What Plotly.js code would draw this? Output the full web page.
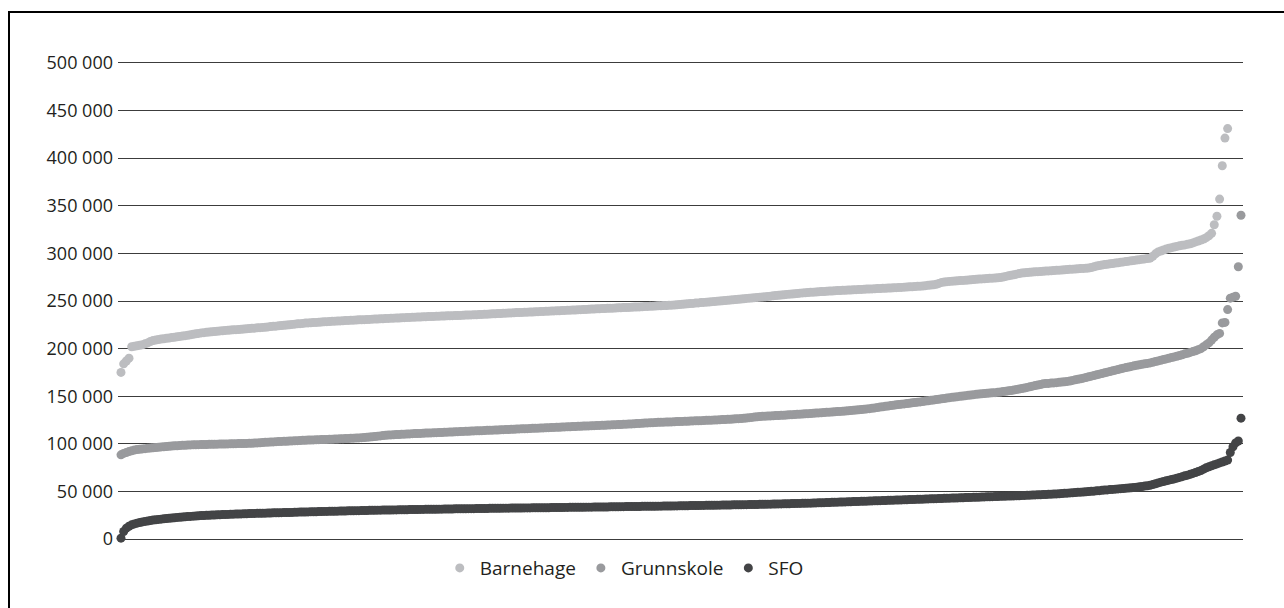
<!DOCTYPE html>
<html>
<head>
<meta charset="utf-8">
<script src="https://cdn.plot.ly/plotly-3.0.1.min.js"></script>
<style>
  html, body { margin: 0; padding: 0; background: #fff; overflow: hidden; }
  #chart { position: absolute; left: 0; top: 0; width: 1284px; height: 608px; }
  #frame { position: absolute; left: 8px; top: 11px; width: 1300px; height: 620px;
           border-top: 2px solid #000; border-left: 2px solid #000; pointer-events: none; }
</style>
</head>
<body>
<div id="chart"></div>
<div id="frame"></div>
<script>
// Values in thousand NOK, each series sorted ascending (one point per municipality)
const seriesNames = ["Barnehage", "Grunnskole", "SFO"];

const barnehage = [
175,184,187,190,202,202.5,203,203.5,204,205,
206,207.5,208.5,209,209.5,210,210.4,210.8,211.2,211.6,
212,212.4,212.8,213.2,213.6,214,214.5,215,215.5,216,
216.5,216.8,217.1,217.4,217.7,218,218.3,218.6,218.8,219.1,
219.3,219.5,219.7,219.9,220.1,220.3,220.5,220.8,221,221.3,
221.5,221.8,222,222.3,222.5,222.8,223.1,223.4,223.6,223.9,
224.2,224.5,224.8,225.1,225.4,225.7,226,226.2,226.5,226.8,
227,227.2,227.4,227.5,227.7,227.9,228.1,228.3,228.5,228.7,
228.8,229,229.1,229.3,229.4,229.6,229.7,229.9,230,230.2,
230.3,230.4,230.6,230.7,230.9,231,231.1,231.3,231.4,231.6,
231.7,231.8,232,232.1,232.2,232.4,232.5,232.6,232.8,232.9,
233,233.1,233.2,233.4,233.5,233.6,233.7,233.8,233.9,234.1,
234.2,234.3,234.4,234.5,234.6,234.7,234.8,234.9,235,235.2,
235.3,235.4,235.5,235.6,235.7,235.9,236,236.2,236.3,236.5,
236.6,236.8,236.9,237.1,237.2,237.4,237.5,237.6,237.8,237.9,
238,238.1,238.3,238.4,238.5,238.7,238.8,238.9,239.1,239.2,
239.3,239.4,239.6,239.7,239.8,240,240.1,240.2,240.4,240.5,
240.6,240.8,240.9,241.1,241.2,241.3,241.5,241.6,241.8,241.9,
242,242.1,242.3,242.4,242.5,242.7,242.8,242.9,243.1,243.2,
243.3,243.4,243.6,243.7,243.8,244,244.1,244.3,244.4,244.6,
244.7,244.9,245,245.2,245.3,245.5,245.6,245.8,246,246.3,
246.5,246.8,247,247.3,247.5,247.8,248,248.3,248.5,248.8,
249,249.3,249.5,249.8,250,250.3,250.5,250.8,251,251.3,
251.5,251.8,252.1,252.4,252.7,253,253.2,253.5,253.8,254,
254.2,254.5,254.8,255.1,255.4,255.7,256,256.3,256.6,256.9,
257.2,257.4,257.6,257.9,258.2,258.5,258.7,258.9,259.1,259.3,
259.5,259.7,259.9,260,260.2,260.4,260.5,260.7,260.9,261,
261.2,261.3,261.5,261.6,261.8,261.9,262.1,262.2,262.3,262.5,
262.6,262.7,262.9,263,263.1,263.3,263.4,263.6,263.7,263.9,
264,264.2,264.3,264.5,264.7,264.9,265,265.2,265.4,265.6,
265.8,266.1,266.5,266.8,267.1,267.5,268.5,269.5,270,270.3,
270.6,270.8,271,271.2,271.4,271.6,271.8,272,272.2,272.5,
272.8,273,273.2,273.4,273.6,273.8,274,274.2,274.4,274.7,
275.2,275.8,276.4,277,277.6,278.2,278.8,279.3,279.6,279.9,
280.2,280.4,280.6,280.8,281,281.2,281.4,281.6,281.8,282,
282.2,282.4,282.6,282.8,283,283.2,283.4,283.6,283.8,284,
284.2,284.4,284.6,285.2,286,286.8,287.3,287.8,288.2,288.6,
289,289.4,289.8,290.2,290.6,291,291.4,291.8,292.2,292.6,
293,293.4,293.8,294.2,294.6,295,297,299.5,301.5,302.5,
303.5,304.5,305.3,306,306.7,307.3,307.9,308.4,308.9,309.5,
310,311,312,313,314,315,316.5,318.5,321,330,
339,357,392,421,431
];

const grunnskole = [
88.5,90,91,92,92.8,93.5,94,94.3,94.7,95,
95.3,95.6,95.9,96.2,96.5,96.8,97,97.3,97.5,97.8,
98,98.1,98.3,98.5,98.6,98.8,98.9,99,99.1,99.2,
99.3,99.4,99.4,99.5,99.6,99.6,99.7,99.8,99.8,99.9,
100,100.1,100.1,100.2,100.3,100.4,100.4,100.5,100.6,100.7,
100.8,101,101.2,101.4,101.6,101.8,101.9,102.1,102.3,102.4,
102.6,102.7,102.8,103,103.1,103.2,103.4,103.5,103.7,103.8,
104,104.1,104.2,104.3,104.4,104.5,104.6,104.7,104.8,104.9,
105,105.1,105.3,105.4,105.6,105.7,105.9,106,106.2,106.3,
106.5,106.7,107,107.2,107.5,107.8,108.1,108.4,108.7,109,
109.2,109.4,109.6,109.8,109.9,110,110.2,110.4,110.5,110.7,
110.8,110.9,111,111.2,111.3,111.4,111.5,111.6,111.8,111.9,
112,112.1,112.3,112.4,112.5,112.7,112.8,112.9,113.1,113.2,
113.3,113.4,113.6,113.7,113.8,113.9,114,114.2,114.3,114.4,
114.5,114.6,114.8,114.9,115,115.1,115.3,115.4,115.5,115.7,
115.8,115.9,116,116.2,116.3,116.4,116.5,116.6,116.8,116.9,
117,117.1,117.3,117.4,117.5,117.7,117.8,117.9,118,118.2,
118.3,118.4,118.5,118.7,118.8,118.9,119,119.1,119.3,119.4,
119.5,119.6,119.8,119.9,120,120.2,120.3,120.4,120.5,120.7,
120.8,121,121.1,121.3,121.5,121.6,121.8,122,122.1,122.3,
122.5,122.6,122.7,122.8,122.9,123,123.1,123.2,123.4,123.5,
123.6,123.7,123.8,124,124.1,124.2,124.3,124.4,124.6,124.7,
124.8,124.9,125.1,125.2,125.3,125.5,125.6,125.8,125.9,126.1,
126.3,126.5,126.7,126.9,127.2,127.5,127.8,128.1,128.4,128.7,
129,129.1,129.3,129.4,129.5,129.7,129.8,130,130.1,130.3,
130.5,130.7,130.8,131,131.2,131.4,131.6,131.7,131.9,132.1,
132.3,132.5,132.7,132.9,133.1,133.3,133.5,133.7,133.9,134.1,
134.3,134.5,134.8,135,135.3,135.5,135.8,136.1,136.4,136.7,
137,137.4,137.8,138.2,138.6,139,139.4,139.8,140.2,140.6,
141,141.3,141.7,142,142.4,142.7,143.1,143.4,143.8,144.1,
144.5,144.9,145.3,145.7,146.1,146.5,146.9,147.3,147.7,148.1,
148.5,148.9,149.2,149.6,149.9,150.3,150.6,151,151.3,151.7,
152,152.3,152.6,152.8,153.1,153.3,153.6,153.8,154.1,154.5,
154.9,155.3,155.7,156.1,156.5,157,157.5,158.1,158.7,159.3,
160,160.6,161.2,161.8,162.4,163,163.3,163.5,163.8,164,
164.3,164.6,164.9,165.2,165.6,166,166.6,167.2,167.8,168.4,
169,169.7,170.4,171.1,171.8,172.5,173.2,173.9,174.6,175.3,
176,176.7,177.4,178.1,178.8,179.5,180.1,180.7,181.3,181.9,
182.5,183,183.5,184,184.5,185,185.7,186.4,187.1,187.8,
188.5,189.2,189.9,190.6,191.3,192,192.8,193.6,194.5,195.2,
196,196.9,197.8,198.9,200,202,204,206,209,212,
214.5,216,227,227.5,241,253,254,255,286,340
];

const sfo = [
1,8,11.5,13.5,15,16,16.8,17.5,18.1,18.6,
19.1,19.5,20,20.3,20.7,21,21.3,21.6,21.9,22.2,
22.5,22.8,23,23.3,23.5,23.7,23.9,24.1,24.3,24.5,
24.7,24.8,25,25.1,25.3,25.4,25.5,25.6,25.8,25.9,
26,26.1,26.2,26.3,26.4,26.5,26.6,26.7,26.8,26.9,
27,27.1,27.2,27.2,27.3,27.4,27.5,27.6,27.6,27.7,
27.8,27.9,28,28,28.1,28.2,28.3,28.4,28.4,28.5,
28.6,28.7,28.8,28.8,28.9,29,29.1,29.1,29.2,29.2,
29.3,29.4,29.5,29.5,29.6,29.7,29.7,29.8,29.9,29.9,
30,30.1,30.1,30.2,30.2,30.3,30.4,30.4,30.5,30.5,
30.6,30.6,30.7,30.7,30.8,30.8,30.9,30.9,31,31,
31.1,31.1,31.2,31.2,31.3,31.3,31.3,31.4,31.4,31.5,
31.5,31.6,31.6,31.7,31.7,31.8,31.8,31.8,31.9,31.9,
32,32,32,32.1,32.1,32.2,32.2,32.2,32.3,32.3,
32.3,32.4,32.4,32.5,32.5,32.5,32.6,32.6,32.7,32.7,
32.7,32.8,32.8,32.8,32.9,32.9,32.9,33,33,33,
33,33.1,33.1,33.2,33.2,33.2,33.3,33.3,33.4,33.4,
33.4,33.5,33.5,33.5,33.6,33.6,33.6,33.7,33.7,33.7,
33.7,33.8,33.8,33.9,33.9,34,34,34.1,34.1,34.2,
34.2,34.2,34.3,34.3,34.3,34.4,34.4,34.4,34.5,34.5,
34.5,34.6,34.6,34.7,34.7,34.8,34.8,34.9,34.9,35,
35,35.1,35.1,35.2,35.2,35.3,35.3,35.4,35.4,35.5,
35.5,35.6,35.6,35.7,35.7,35.8,35.8,35.9,35.9,36,
36,36.1,36.1,36.2,36.2,36.3,36.3,36.4,36.4,36.5,
36.5,36.6,36.7,36.7,36.8,36.9,37,37,37.1,37.2,
37.2,37.3,37.4,37.5,37.5,37.6,37.7,37.8,37.8,37.9,
38,38.1,38.2,38.3,38.4,38.5,38.6,38.7,38.8,38.9,
39,39.1,39.2,39.3,39.4,39.5,39.6,39.7,39.8,39.9,
40,40.1,40.2,40.3,40.4,40.5,40.6,40.7,40.8,40.9,
41,41.1,41.2,41.3,41.4,41.5,41.6,41.7,41.8,41.9,
42,42.1,42.2,42.3,42.4,42.5,42.6,42.7,42.8,42.9,
43,43.1,43.2,43.3,43.4,43.5,43.6,43.7,43.8,43.9,
44,44.1,44.2,44.3,44.4,44.5,44.6,44.7,44.8,44.9,
45,45.1,45.2,45.3,45.4,45.5,45.6,45.7,45.9,46,
46.2,46.3,46.4,46.5,46.6,46.8,46.9,47,47.2,47.3,
47.5,47.7,47.9,48.1,48.3,48.5,48.7,48.9,49.1,49.3,
49.5,49.7,49.9,50.2,50.4,50.7,50.9,51.2,51.5,51.7,
52,52.2,52.5,52.7,53,53.2,53.5,53.7,54,54.2,
54.5,54.9,55.3,55.7,56.1,56.5,57.3,58.2,59,59.8,
60.5,61.2,61.9,62.5,63.2,64,64.8,65.6,66.5,67.2,
68,69,70,71,72,73.5,75,76,77,78,
79,80,81,82,83,91,97,101,103,127
];

const yTickVals = [0, 50000, 100000, 150000, 200000, 250000, 300000, 350000, 400000, 450000, 500000];
const yTickText = ["0", "50 000", "100 000", "150 000", "200 000", "250 000", "300 000", "350 000", "400 000", "450 000", "500 000"];

const seriesValues = [barnehage, grunnskole, sfo];
const seriesColors = ["#bcbdc0", "#999a9d", "#434446"];

const traces = seriesValues.map((vals, k) => ({
  type: "scatter",
  mode: "markers",
  name: seriesNames[k],
  x: vals.map((_, i) => i + 1),
  y: vals.map(v => v * 1000),
  cliponaxis: false,
  marker: { color: seriesColors[k], size: 9, line: { width: 0 } },
  hoverinfo: "skip"
}));

const layout = {
  width: 1284,
  height: 608,
  margin: { l: 118, r: 41, t: 60, b: 66, pad: 0 },
  paper_bgcolor: "#ffffff",
  plot_bgcolor: "#ffffff",
  font: { family: "Open Sans, Noto Sans, sans-serif", color: "#231f20", size: 18 },
  showlegend: true,
  legend: {
    orientation: "h",
    x: 0.286, xanchor: "left",
    y: -0.054, yanchor: "middle",
    font: { size: 19, color: "#231f20", family: "Open Sans, Noto Sans, sans-serif" },
    itemwidth: 30,
    tracegroupgap: 0,
    bgcolor: "rgba(0,0,0,0)"
  },
  xaxis: {
    range: [-0.12, 420.75],
    showgrid: false, zeroline: false, showline: false,
    showticklabels: false, ticks: "", fixedrange: true
  },
  yaxis: {
    range: [-3000, 503000],
    tickmode: "array",
    tickvals: yTickVals,
    ticktext: yTickText,
    showgrid: true, gridcolor: "#3c3c3c", gridwidth: 1,
    zeroline: false, showline: false, ticks: "",
    tickfont: { size: 18, color: "#231f20", family: "Open Sans, Noto Sans, sans-serif" },
    ticklabelstandoff: 4,
    fixedrange: true
  },
  hovermode: false
};

Plotly.newPlot("chart", traces, layout, { displayModeBar: false, staticPlot: true });
</script>
</body>
</html>
